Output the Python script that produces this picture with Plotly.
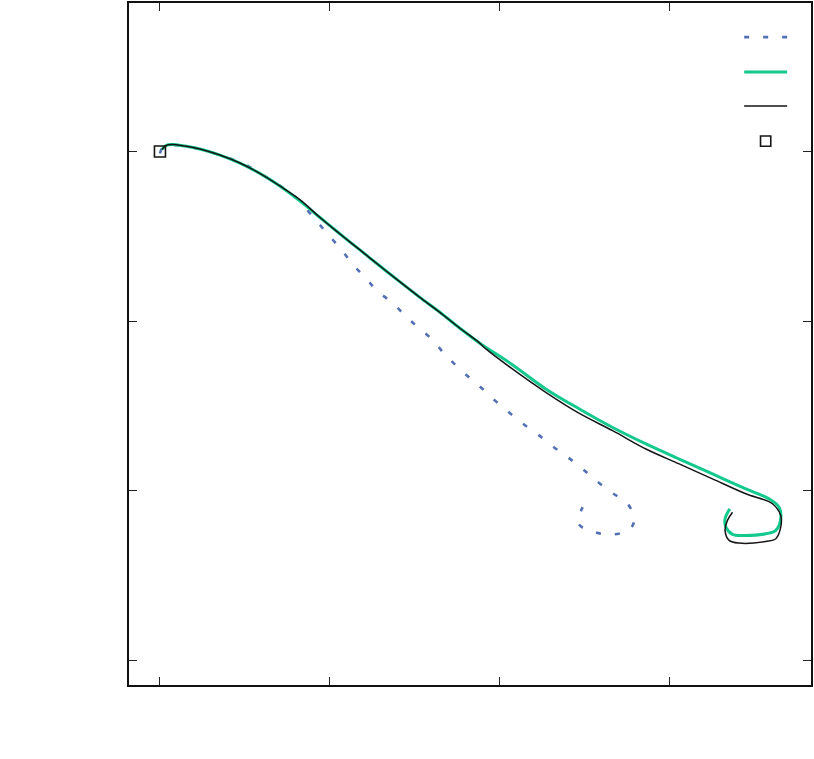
import plotly.graph_objects as go

# dotted path (blue)
dotX = [0.0, 0.018, 0.059, 0.118, 0.194, 0.306, 0.412, 0.512, 0.600, 0.694, 0.782, 0.853,
        0.929, 1.0, 1.071, 1.135, 1.212, 1.282, 1.371, 1.447, 1.518, 1.6, 1.671, 1.747,
        1.824, 1.9, 1.976, 2.059, 2.147, 2.235, 2.324, 2.406, 2.494, 2.576, 2.665, 2.755,
        2.794, 2.765, 2.665, 2.559, 2.466, 2.490]
dotY = [-0.012, 0.029, 0.038, 0.035, 0.024, -0.006, -0.041, -0.082, -0.135, -0.194, -0.253, -0.329,
        -0.418, -0.5, -0.582, -0.665, -0.747, -0.824, -0.894, -0.971, -1.035, -1.106, -1.188, -1.265,
        -1.335, -1.4, -1.471, -1.541, -1.612, -1.676, -1.747, -1.806, -1.876, -1.947, -2.014, -2.078,
        -2.172, -2.231, -2.259, -2.245, -2.196, -2.098]

# green path
greenX = [0.012, 0.035, 0.071, 0.147, 0.235, 0.353, 0.471, 0.588, 0.706, 0.824, 0.941, 1.059,
          1.176, 1.294, 1.412, 1.529, 1.647, 1.765, 1.882, 2.078, 2.275, 2.471, 2.667, 2.863,
          3.059, 3.255, 3.451, 3.588, 3.647, 3.657, 3.628, 3.569, 3.451, 3.373, 3.334, 3.329, 3.357]
greenY = [0.012, 0.035, 0.041, 0.032, 0.015, -0.021, -0.068, -0.129, -0.203, -0.291, -0.388, -0.485,
          -0.579, -0.674, -0.768, -0.859, -0.947, -1.041, -1.129, -1.259, -1.402, -1.519, -1.628, -1.725,
          -1.814, -1.902, -1.990, -2.049, -2.098, -2.166, -2.235, -2.255, -2.265, -2.259, -2.216, -2.166, -2.108]

# black path
blackX = [0.012, 0.035, 0.071, 0.147, 0.235, 0.353, 0.471, 0.588, 0.706, 0.824, 0.941, 1.059,
          1.176, 1.294, 1.412, 1.529, 1.647, 1.765, 1.882, 1.922, 2.078, 2.275, 2.471, 2.667, 2.863,
          3.059, 3.255, 3.451, 3.608, 3.657, 3.657, 3.628, 3.569, 3.412, 3.353, 3.329, 3.343, 3.373]
blackY = [0.012, 0.035, 0.041, 0.032, 0.015, -0.021, -0.068, -0.129, -0.203, -0.284, -0.388, -0.485,
          -0.579, -0.674, -0.768, -0.859, -0.947, -1.041, -1.129, -1.166, -1.284, -1.422, -1.545, -1.647, -1.755,
          -1.843, -1.931, -2.019, -2.078, -2.147, -2.216, -2.284, -2.300, -2.310, -2.294, -2.235, -2.176, -2.128]

startX = [0.0]
startY = [0.0]

tickVals = [0, 1, 2, 3]
yTickVals = [0, -1, -2, -3]

BLUE = '#5470b4'
GREEN = '#14c98e'
BLACK = '#151515'

fig = go.Figure()

fig.add_trace(go.Scatter(x=dotX, y=dotY, mode='lines', line_shape='spline',
                         line=dict(color=BLUE, width=2.6, dash='5px,14px'), showlegend=False))
fig.add_trace(go.Scatter(x=greenX, y=greenY, mode='lines', line_shape='spline',
                         line=dict(color=GREEN, width=3), showlegend=False))
fig.add_trace(go.Scatter(x=blackX, y=blackY, mode='lines', line_shape='spline',
                         line=dict(color=BLACK, width=1.5), showlegend=False))
fig.add_trace(go.Scatter(x=startX, y=startY, mode='markers',
                         marker=dict(symbol='square-open', size=11, color=BLACK,
                                     line=dict(width=1.6, color=BLACK)),
                         showlegend=False))

# key drawn at the top right
keyX0, keyX1 = 0.902, 0.965
fig.add_shape(type='line', xref='paper', yref='paper', x0=keyX0, x1=keyX1, y0=0.950, y1=0.950,
              line=dict(color=BLUE, width=2.6, dash='5px,14px'))
fig.add_shape(type='line', xref='paper', yref='paper', x0=keyX0, x1=keyX1, y0=0.899, y1=0.899,
              line=dict(color=GREEN, width=3))
fig.add_shape(type='line', xref='paper', yref='paper', x0=keyX0, x1=keyX1, y0=0.849, y1=0.849,
              line=dict(color=BLACK, width=1.5))
fig.add_shape(type='rect', xref='paper', yref='paper', x0=0.926, x1=0.941, y0=0.790, y1=0.805,
              line=dict(color=BLACK, width=1.6))

fig.update_layout(
    width=814, height=759,
    margin=dict(l=129, r=2, t=1, b=74),
    paper_bgcolor='white', plot_bgcolor='white',
    showlegend=False,
)
fig.update_xaxes(
    range=[-0.1824, 3.8353], tickvals=tickVals, showticklabels=False,
    ticks='inside', ticklen=8, tickwidth=1, tickcolor='#222',
    showline=True, linewidth=2, linecolor='#111', mirror='ticks',
    showgrid=False, zeroline=False,
)
fig.update_yaxes(
    range=[-3.147, 0.876], tickvals=yTickVals, showticklabels=False,
    ticks='inside', ticklen=8, tickwidth=1, tickcolor='#222',
    showline=True, linewidth=2, linecolor='#111', mirror='ticks',
    showgrid=False, zeroline=False,
)

# page margin off so the figure sits at the window's corner
fig.write_html("out.html", config={'displayModeBar': False},
               post_script="document.body.style.margin='0';document.body.style.overflow='hidden';")
